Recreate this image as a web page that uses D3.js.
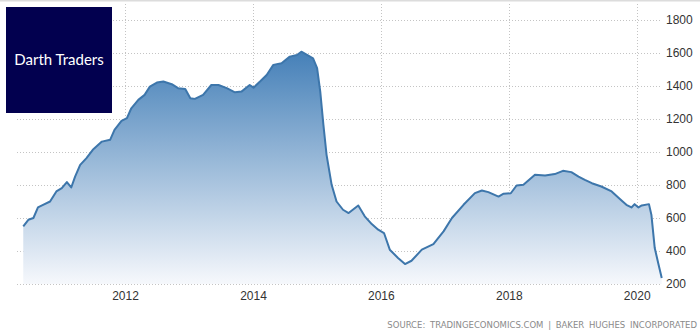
<!DOCTYPE html>
<html>
<head>
<meta charset="utf-8">
<script src="https://cdn.jsdelivr.net/npm/d3@7"></script>
<style>
  body { margin: 0; background: #fff; }
  svg { display: block; }
</style>
</head>
<body>
<div id="chart"></div>
<script>
// Baker Hughes US oil rig count
const dates = [
  "2010-05-30", "2010-06-28", "2010-07-27", "2010-08-22", "2010-09-20", "2010-10-30", "2010-12-05",
  "2011-01-05", "2011-02-03", "2011-02-28", "2011-03-22", "2011-04-20", "2011-05-26", "2011-07-01",
  "2011-08-22", "2011-10-08", "2011-11-02", "2011-12-12",
  "2012-01-12", "2012-02-06", "2012-03-17", "2012-04-22", "2012-05-22", "2012-07-01", "2012-08-07",
  "2012-09-24", "2012-10-30", "2012-12-10",
  "2013-01-08", "2013-02-03", "2013-03-22", "2013-05-08", "2013-06-18", "2013-08-04", "2013-09-20",
  "2013-10-27", "2013-12-13",
  "2014-01-04", "2014-02-10", "2014-03-20", "2014-04-27", "2014-06-13", "2014-07-30", "2014-09-09",
  "2014-10-04", "2014-11-13", "2014-12-10",
  "2015-01-02", "2015-01-20", "2015-02-07", "2015-02-25", "2015-03-26", "2015-04-23", "2015-05-30",
  "2015-07-01", "2015-08-25", "2015-10-01", "2015-11-10", "2015-12-17",
  "2016-01-19", "2016-02-21", "2016-04-08", "2016-05-18", "2016-06-24", "2016-08-22", "2016-10-27",
  "2016-12-24",
  "2017-02-10", "2017-04-17", "2017-06-21", "2017-07-31", "2017-09-06", "2017-11-03", "2017-12-02",
  "2018-01-12", "2018-02-14", "2018-03-25", "2018-05-30", "2018-07-27", "2018-09-20", "2018-11-06",
  "2018-12-24",
  "2019-02-03", "2019-03-11", "2019-04-20", "2019-06-13", "2019-08-11", "2019-09-27", "2019-11-03",
  "2019-12-02", "2019-12-20",
  "2020-01-11", "2020-01-30", "2020-03-11", "2020-03-25", "2020-04-13", "2020-05-05", "2020-05-23"
];
const rigs = [
  549, 589, 600, 664, 680, 700, 761,
  781, 818, 785, 851, 922, 963, 1013,
  1063, 1074, 1134, 1189,
  1205, 1265, 1316, 1346, 1396, 1421, 1427,
  1411, 1387, 1382,
  1326, 1322, 1346, 1406, 1406, 1387, 1362,
  1366, 1406,
  1390, 1427, 1467, 1528, 1538, 1578, 1588,
  1608, 1584, 1568,
  1508, 1366, 1164, 983, 801, 700, 650,
  630, 676, 610, 563, 529,
  509, 408, 358, 321, 341, 408, 442,
  519,
  600, 680, 751, 767, 757, 730, 747,
  750, 797, 801, 862, 858, 866, 886,
  878,
  851, 831, 811, 791, 761, 715, 680,
  664, 684,
  664, 676, 684, 619, 418, 317, 236
];
const yTicks = [200, 400, 600, 800, 1000, 1200, 1400, 1600, 1800];
const xTicks = ["2012", "2014", "2016", "2018", "2020"];
const sourceText = "SOURCE: TRADINGECONOMICS.COM | BAKER HUGHES INCORPORATED";
const logoText = "Darth Traders";

const parse = d3.timeParse("%Y-%m-%d");
const data = dates.map((d, i) => ({ date: parse(d), value: rigs[i] }));

const W = 700, H = 334;
const svg = d3.select("#chart").append("svg")
    .attr("width", W)
    .attr("height", H);

const plotLeft = 17, plotRight = 662, plotTop = 20, plotBottom = 284;

// 2012-01-01 sits at x=125, 2020-01-01 at x=636.7
const x = d3.scaleTime()
    .domain([new Date(2012, 0, 1), new Date(2020, 0, 1)])
    .range([125, 636.7]);
const y = d3.scaleLinear().domain([200, 1800]).range([plotBottom, plotTop]);

// top border
svg.append("line")
    .attr("x1", 0).attr("x2", W)
    .attr("y1", 0.5).attr("y2", 0.5)
    .attr("stroke", "#dcdcdc")
    .attr("stroke-width", 2);

// gradient for the area
const grad = svg.append("defs").append("linearGradient")
    .attr("id", "fillGrad")
    .attr("gradientUnits", "userSpaceOnUse")
    .attr("x1", 0).attr("x2", 0)
    .attr("y1", y(d3.max(rigs))).attr("y2", plotBottom);
grad.append("stop").attr("offset", "0%").attr("stop-color", "#4580b8");
grad.append("stop").attr("offset", "100%").attr("stop-color", "#f6f8fc");

// horizontal grid
svg.append("g")
  .selectAll("line")
  .data(yTicks)
  .join("line")
    .attr("x1", plotLeft).attr("x2", plotRight)
    .attr("y1", d => Math.round(y(d)) + 0.5)
    .attr("y2", d => Math.round(y(d)) + 0.5)
    .attr("stroke", "#c4c4c4")
    .attr("stroke-dasharray", "1,2");

// vertical grid
svg.append("g")
  .selectAll("line")
  .data(xTicks)
  .join("line")
    .attr("x1", d => Math.round(x(new Date(+d, 0, 1))) + 0.5)
    .attr("x2", d => Math.round(x(new Date(+d, 0, 1))) + 0.5)
    .attr("y1", 4).attr("y2", plotBottom)
    .attr("stroke", "#c4c4c4")
    .attr("stroke-dasharray", "1,2");

const area = d3.area()
    .x(d => x(d.date))
    .y0(plotBottom)
    .y1(d => y(d.value));

const line = d3.line()
    .x(d => x(d.date))
    .y(d => y(d.value));

svg.append("path")
    .datum(data)
    .attr("fill", "url(#fillGrad)")
    .attr("d", area);

svg.append("path")
    .datum(data)
    .attr("fill", "none")
    .attr("stroke", "#3d76ab")
    .attr("stroke-width", 2)
    .attr("stroke-linejoin", "round")
    .attr("d", line);

// y axis on the right
const yAxis = svg.append("g")
    .attr("transform", `translate(${plotRight + 2},0)`)
    .call(d3.axisRight(y).tickValues(yTicks).tickFormat(d3.format("d")).tickSize(0).tickPadding(2));
yAxis.select(".domain").remove();
yAxis.selectAll("text")
    .attr("fill", "#333")
    .style("font", "12px 'Liberation Sans', Arial, sans-serif");

// x axis
const xAxis = svg.append("g")
    .attr("transform", `translate(0,${plotBottom})`)
    .call(d3.axisBottom(x)
        .tickValues(xTicks.map(d => new Date(+d, 0, 1)))
        .tickFormat(d3.timeFormat("%Y"))
        .tickSize(0).tickPadding(7));
xAxis.select(".domain").remove();
xAxis.selectAll("text")
    .attr("fill", "#333")
    .style("font", "12px 'Liberation Sans', Arial, sans-serif");

// source
svg.append("text")
    .attr("x", 697)
    .attr("y", 328)
    .attr("text-anchor", "end")
    .attr("fill", "#8a8a8a")
    .style("font", "8.5px 'DejaVu Sans', sans-serif")
    .style("word-spacing", "2px")
    .text(sourceText);

// logo box
svg.append("rect")
    .attr("x", 6).attr("y", 7)
    .attr("width", 106).attr("height", 106)
    .attr("fill", "#02004f");
svg.append("text")
    .attr("x", 59).attr("y", 65)
    .attr("text-anchor", "middle")
    .attr("fill", "#fff")
    .style("font", "15px Lato, sans-serif")
    .text(logoText);
</script>
</body>
</html>
